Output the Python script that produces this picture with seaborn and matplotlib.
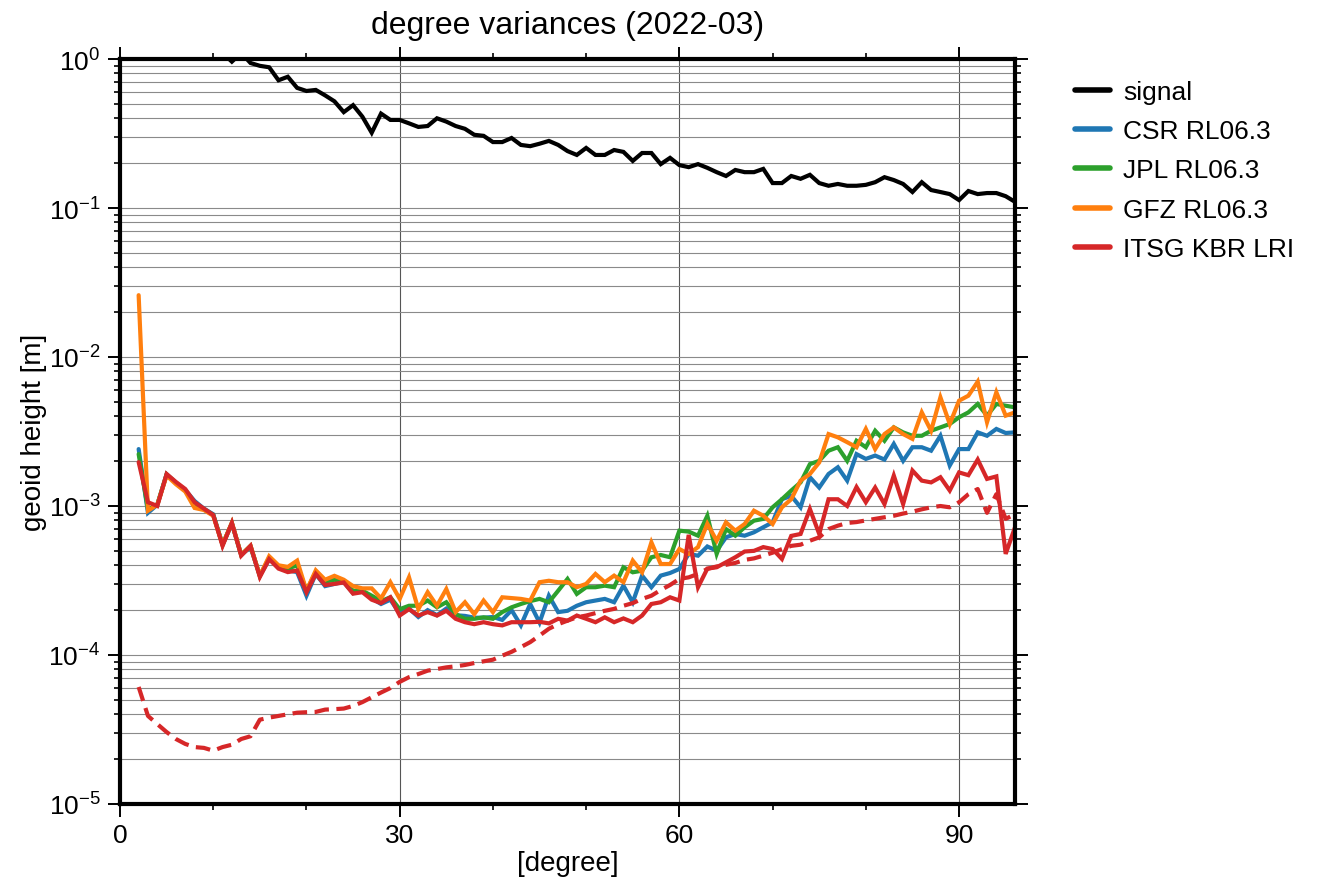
import numpy as np
import pandas as pd
import matplotlib
matplotlib.use("Agg")
import matplotlib.pyplot as plt
import matplotlib.ticker as mticker
import seaborn as sns

# ---------------- data ----------------
degrees = list(range(2, 97))

signal = [40, 6.0, 4.5, 3.5, 2.6, 2.1, 1.8, 1.5, 1.3, 1.1,
          0.96, 1.1, 0.94, 0.90, 0.88, 0.72, 0.76, 0.64, 0.61, 0.62,
          0.57, 0.52, 0.44, 0.49, 0.41, 0.32, 0.43, 0.39, 0.39, 0.37,
          0.35, 0.355, 0.40, 0.38, 0.355, 0.34, 0.31, 0.305, 0.277, 0.277,
          0.295, 0.265, 0.26, 0.27, 0.282, 0.265, 0.241, 0.227, 0.253, 0.227,
          0.227, 0.245, 0.238, 0.207, 0.234, 0.234, 0.197, 0.217, 0.194, 0.188,
          0.197, 0.186, 0.174, 0.164, 0.180, 0.174, 0.174, 0.183, 0.147, 0.147,
          0.164, 0.157, 0.167, 0.147, 0.141, 0.145, 0.141, 0.141, 0.143, 0.149,
          0.161, 0.154, 0.145, 0.128, 0.149, 0.132, 0.128, 0.124, 0.113, 0.130,
          0.124, 0.126, 0.126, 0.120, 0.110]

csr = [0.00241, 0.00090, 0.00102, 0.00163, 0.00143, 0.00128, 0.00108, 0.00096, 0.00088, 0.00055,
       0.00076, 0.00047, 0.00053, 0.00034, 0.00044, 0.00039, 0.00037, 0.00036, 0.00025, 0.00035,
       0.00029, 0.00030, 0.00031, 0.00026, 0.00027, 0.00024, 0.00022, 0.000235, 0.00019, 0.000205,
       0.00018, 0.0002, 0.000185, 0.000205, 0.000185, 0.000183, 0.000178, 0.000178, 0.00018, 0.000172,
       0.0002, 0.000158, 0.00022, 0.000165, 0.00025, 0.000194, 0.000198, 0.000214, 0.000226, 0.000232,
       0.000238, 0.000226, 0.000292, 0.000226, 0.000341, 0.000285, 0.000341, 0.000355, 0.000378, 0.000477,
       0.000464, 0.000535, 0.000501, 0.000616, 0.000649, 0.000632, 0.000666, 0.00072, 0.000777, 0.00111,
       0.00117, 0.00098, 0.00156, 0.00133, 0.00164, 0.00182, 0.00148, 0.00223, 0.00207, 0.00218,
       0.00205, 0.00261, 0.00201, 0.00248, 0.00248, 0.00235, 0.00296, 0.00187, 0.00241, 0.00241,
       0.00312, 0.00296, 0.00329, 0.00309, 0.00312]

jpl = [0.00223, 0.00095, 0.00102, 0.00163, 0.00143, 0.00127, 0.00104, 0.00095, 0.00087, 0.00055,
       0.00077, 0.00047, 0.00054, 0.00034, 0.00045, 0.00039, 0.00038, 0.00040, 0.00027, 0.00036,
       0.00031, 0.00032, 0.00031, 0.00027, 0.00027, 0.00025, 0.00023, 0.000244, 0.000203, 0.000214,
       0.000214, 0.000232, 0.000209, 0.000226, 0.000188, 0.000175, 0.000175, 0.000179, 0.000175, 0.000194,
       0.000209, 0.00022, 0.00023, 0.000238, 0.000226, 0.00027, 0.000324, 0.000257, 0.000285, 0.000285,
       0.000292, 0.000285, 0.000388, 0.000359, 0.000368, 0.000453, 0.000469, 0.000453, 0.000683, 0.000673,
       0.000632, 0.00086, 0.000477, 0.0007, 0.000632, 0.00072, 0.000797, 0.00082, 0.00098, 0.00111,
       0.00127, 0.00144, 0.00191, 0.00201, 0.00235, 0.00248, 0.00201, 0.00274, 0.00248, 0.0032,
       0.00274, 0.00337, 0.00312, 0.00296, 0.00296, 0.0032, 0.00337, 0.00355, 0.00394, 0.00425,
       0.00484, 0.00404, 0.00484, 0.00471, 0.00459]

gfz = [0.026, 0.00093, 0.00102, 0.0016, 0.0014, 0.00125, 0.00097, 0.00094, 0.00086, 0.00055,
       0.00077, 0.00047, 0.00054, 0.00034, 0.00046, 0.00040, 0.00039, 0.00043, 0.00027, 0.00037,
       0.00032, 0.00034, 0.00032, 0.00029, 0.00028, 0.00028, 0.00024, 0.000308, 0.000238, 0.000332,
       0.000203, 0.000264, 0.000214, 0.000277, 0.000194, 0.000226, 0.000188, 0.000232, 0.000194, 0.000244,
       0.000241, 0.000238, 0.000232, 0.000308, 0.000315, 0.000308, 0.000308, 0.000285, 0.0003, 0.00035,
       0.000308, 0.000341, 0.000308, 0.00043, 0.000359, 0.00057, 0.000408, 0.000408, 0.000514, 0.000477,
       0.00053, 0.00076, 0.000585, 0.000777, 0.000683, 0.000757, 0.00093, 0.00086, 0.000757, 0.00098,
       0.00111, 0.00148, 0.00164, 0.00196, 0.00304, 0.00289, 0.00268, 0.00248, 0.00329, 0.00241,
       0.00304, 0.00337, 0.00304, 0.00282, 0.00425, 0.0032, 0.00536, 0.00355, 0.00509, 0.0055,
       0.00683, 0.00365, 0.0058, 0.00404, 0.00425]

itsg = [0.00197, 0.00106, 0.0010, 0.00164, 0.00145, 0.0013, 0.00106, 0.00096, 0.00087, 0.00054,
        0.00077, 0.000464, 0.00054, 0.000334, 0.00044, 0.00038, 0.00036, 0.000369, 0.000264, 0.00035,
        0.000295, 0.0003, 0.000307, 0.000258, 0.000264, 0.000235, 0.000223, 0.000244, 0.000184, 0.000203,
        0.000184, 0.000194, 0.000184, 0.000198, 0.000175, 0.000166, 0.000161, 0.000166, 0.000161, 0.000158,
        0.000166, 0.000166, 0.000166, 0.000167, 0.000163, 0.000175, 0.00017, 0.000184, 0.000175, 0.000166,
        0.000179, 0.000166, 0.000176, 0.000166, 0.000184, 0.00022, 0.000226, 0.000244, 0.000232, 0.00064,
        0.000285, 0.00038, 0.000388, 0.000419, 0.000453, 0.000495, 0.0005, 0.00053, 0.000514, 0.000441,
        0.00063, 0.000649, 0.000955, 0.000649, 0.00111, 0.00111, 0.001, 0.00134, 0.00106, 0.00133,
        0.00103, 0.0016, 0.00103, 0.00173, 0.00148, 0.00144, 0.00156, 0.00127, 0.00168, 0.00161,
        0.00205, 0.00152, 0.00158, 0.000477, 0.00072]

itsg_formal = [6.1e-5, 3.9e-5, 3.44e-5, 3.04e-5, 2.73e-5, 2.53e-5, 2.41e-5, 2.38e-5, 2.28e-5, 2.41e-5,
               2.5e-5, 2.73e-5, 2.85e-5, 3.68e-5, 3.8e-5, 3.9e-5, 4.0e-5, 4.1e-5, 4.13e-5, 4.15e-5,
               4.3e-5, 4.33e-5, 4.37e-5, 4.55e-5, 4.83e-5, 5.2e-5, 5.6e-5, 6.0e-5, 6.6e-5, 7.1e-5,
               7.45e-5, 7.85e-5, 8.05e-5, 8.26e-5, 8.4e-5, 8.57e-5, 8.83e-5, 9.07e-5, 9.3e-5, 9.9e-5,
               1.05e-4, 1.13e-4, 1.22e-4, 1.35e-4, 1.5e-4, 1.61e-4, 1.70e-4, 1.79e-4, 1.84e-4, 1.91e-4,
               1.98e-4, 2.04e-4, 2.14e-4, 2.23e-4, 2.38e-4, 2.5e-4, 2.73e-4, 2.95e-4, 3.24e-4, 3.32e-4,
               3.5e-4, 3.78e-4, 3.93e-4, 4.03e-4, 4.15e-4, 4.35e-4, 4.45e-4, 4.64e-4, 4.86e-4, 5.14e-4,
               5.4e-4, 5.5e-4, 5.85e-4, 6.16e-4, 7.0e-4, 7.38e-4, 7.69e-4, 7.8e-4, 8.0e-4, 8.2e-4,
               8.4e-4, 8.6e-4, 8.9e-4, 9.16e-4, 9.5e-4, 9.8e-4, 1.0e-3, 9.8e-4, 1.06e-3, 1.2e-3,
               1.3e-3, 9.0e-4, 1.2e-3, 8.2e-4, 8.8e-4]

labels = ["signal", "CSR RL06.3", "JPL RL06.3", "GFZ RL06.3", "ITSG KBR LRI"]
colors = ["#000000", "#1f77b4", "#2ca02c", "#ff7f0e", "#d62728"]
x_ticks = [0, 30, 60, 90]
title = "degree variances (2022-03)"
xlabel = "[degree]"
ylabel = "geoid height [m]"

# ---------------- style ----------------
sns.set_style("ticks")
plt.rcParams['font.family'] = ['Liberation Sans', 'DejaVu Sans']
plt.rcParams['mathtext.fontset'] = 'custom'
plt.rcParams['mathtext.rm'] = 'Liberation Sans'
plt.rcParams['mathtext.it'] = 'Liberation Sans'
plt.rcParams['mathtext.default'] = 'regular'
for k in ['text.color', 'axes.labelcolor', 'xtick.color', 'ytick.color']:
    plt.rcParams[k] = 'black'

fig = plt.figure(figsize=(13.22, 8.79), dpi=100)
ax = fig.add_axes([120 / 1322, 1 - 805 / 879, (1015 - 120) / 1322, (805 - 60) / 879])

series = [signal, csr, jpl, gfz, itsg]
for vals, lab, col in zip(series, labels, colors):
    sns.lineplot(x=degrees, y=vals, ax=ax, color=col, lw=3.0, label=lab,
                 solid_joinstyle='miter', zorder=3)
sns.lineplot(x=degrees, y=itsg_formal, ax=ax, color=colors[4], lw=3.0,
             linestyle=(0, (3.5, 1.8)), legend=False, zorder=3)

ax.set_yscale('log')
ax.set_xlim(0, 96)
ax.set_ylim(1e-5, 1)

ax.xaxis.set_major_locator(mticker.FixedLocator(x_ticks))
ax.xaxis.set_minor_locator(mticker.MultipleLocator(10))
ax.yaxis.set_major_locator(mticker.LogLocator(base=10, numticks=10))
ax.yaxis.set_minor_locator(mticker.LogLocator(base=10, subs=np.arange(2, 10), numticks=20))
ax.yaxis.set_minor_formatter(mticker.NullFormatter())

ax.grid(True, axis='y', which='both', color='#8a8a8a', lw=0.8, zorder=1)
ax.grid(True, axis='x', which='major', color='#555555', lw=0.8, zorder=1)

for s in ax.spines.values():
    s.set_linewidth(3.0)
    s.set_color('black')
    s.set_zorder(5)

ax.tick_params(which='both', direction='out', top=True, right=True,
               labelsize=19, color='black')
ax.tick_params(which='major', length=9, width=1.4, pad=5)
ax.tick_params(which='minor', length=4.5, width=1.2)

ax.set_title(title, fontsize=23, pad=19)
ax.set_xlabel(xlabel, fontsize=20, labelpad=2)
ax.set_ylabel(ylabel, fontsize=20, labelpad=1)

leg = ax.legend(loc='upper left', bbox_to_anchor=(1.067, 0.972), frameon=False,
                fontsize=19, handlelength=1.33, handletextpad=0.5,
                labelspacing=0.58, borderaxespad=0.0, borderpad=0.0)
for line in leg.get_lines():
    line.set_linewidth(4.0)
    line.set_linestyle('-')

fig.savefig("out.png", dpi=100)
